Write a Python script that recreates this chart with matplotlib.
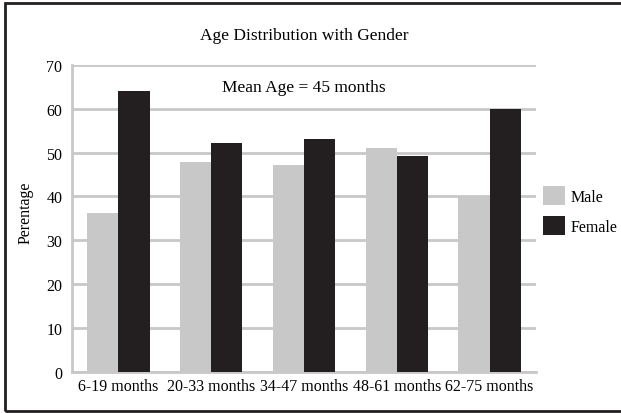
import numpy as np
import matplotlib.pyplot as plt
from matplotlib.patches import Rectangle

categories = ["6-19 months", "20-33 months", "34-47 months", "48-61 months", "62-75 months"]
male = [36.3, 47.8, 47.1, 51.0, 40.0]
female = [64.0, 52.1, 53.0, 49.2, 60.0]
y_ticks = [0, 10, 20, 30, 40, 50, 60, 70]

plt.rcParams['font.family'] = ['Liberation Serif', 'DejaVu Serif']

fig = plt.figure(figsize=(6.21, 4.14), dpi=100)
ax = fig.add_axes([0.116, 0.099, 0.747, 0.742])

x = np.arange(len(categories))
w = 0.335
ax.bar(x - w / 2, male, width=w, color='#c8c8c8', label='Male', zorder=3)
ax.bar(x + w / 2, female, width=w, color='#231f20', label='Female', zorder=3)

ax.set_xlim(-0.5, len(categories) - 0.5)
ax.set_ylim(0, 70)
ax.set_yticks(y_ticks)
ax.set_xticks(x)
ax.set_xticklabels(categories, fontsize=11.5)
ax.tick_params(axis='y', labelsize=11.5, length=0, pad=7)
ax.tick_params(axis='x', length=0, pad=4)
ax.yaxis.grid(True, color='#c8c8c8', linewidth=2, zorder=0)
for s in ['top', 'right']:
    ax.spines[s].set_visible(False)
ax.spines['left'].set_color('#c8c8c8')
ax.spines['bottom'].set_color('#c8c8c8')
ax.spines['left'].set_linewidth(2)
ax.spines['bottom'].set_linewidth(2)

ax.set_ylabel("Perentage", fontsize=11.5)
ax.yaxis.set_label_coords(-0.083, 0.52)
fig.text(0.49, 0.912, "Age Distribution with Gender", ha='center', va='center', fontsize=12.5)
ax.text(2, 65, "Mean Age = 45 months", ha='center', va='center', fontsize=12.5)

fig.legend(loc='upper left', bbox_to_anchor=(543 / 621, 1 - 187 / 414), frameon=False,
           fontsize=11.5, handlelength=1.4, handleheight=1.45, labelspacing=0.7,
           handletextpad=0.35, borderaxespad=0, borderpad=0)

# outer frame; right edge falls outside the image as in the reference
fig.patches.append(Rectangle((0.008, 0.006), 1.05, 0.984, transform=fig.transFigure,
                             fill=False, edgecolor='#231f20', linewidth=2))

fig.savefig("out.png", dpi=100)
